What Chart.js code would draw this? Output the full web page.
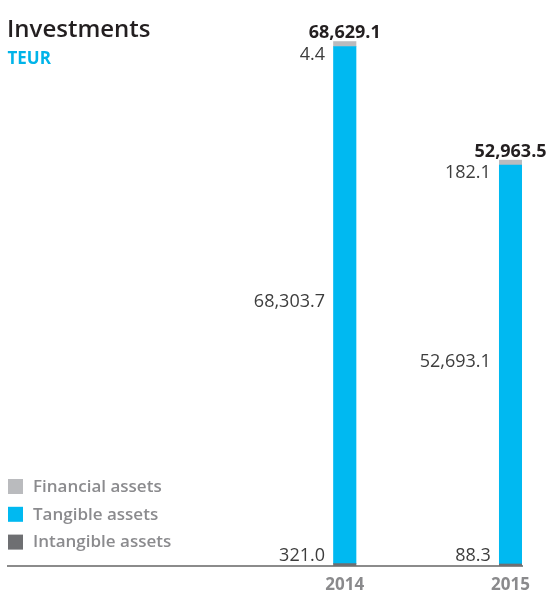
<!DOCTYPE html>
<html>
<head>
<meta charset="utf-8">
<script src="https://cdn.jsdelivr.net/npm/chart.js@4/dist/chart.umd.min.js"></script>
<style>
  html, body { margin: 0; padding: 0; background: #fff; }
  #wrap { position: relative; width: 552px; height: 591px; }
</style>
</head>
<body>
<div id="wrap"><canvas id="investments"></canvas></div>
<script>
// Investments per year, TEUR
const YEARS = [2014, 2015];
const INTANGIBLE = [321.0, 88.3];
const TANGIBLE = [68303.7, 52693.1];
const FINANCIAL = [4.4, 182.1];

const COLORS = {
  intangible: '#6e6f72',
  tangible: '#00b9f1',
  financial: '#babbbe'
};

const FONT = '"Open Sans", "Noto Sans", sans-serif';

const fmt = (v) => v.toLocaleString('en-US', { minimumFractionDigits: 1, maximumFractionDigits: 1 });
const points = (values) => YEARS.map((year, i) => ({ x: year, y: values[i] }));

// title, legend and value labels drawn on top of the bars
const annotations = {
  id: 'annotations',
  afterDraw(chart) {
    const { ctx } = chart;
    ctx.save();

    ctx.fillStyle = '#231f20';
    ctx.font = `600 24px ${FONT}`;
    ctx.textAlign = 'left';
    ctx.textBaseline = 'alphabetic';
    ctx.fillText('Investments', 7, 37);
    ctx.fillStyle = '#00b4e9';
    ctx.font = `700 17px ${FONT}`;
    ctx.fillText('TEUR', 7.5, 64);

    // legend, top row = top of the stack
    const sets = chart.data.datasets.slice().reverse();
    sets.forEach((ds, row) => {
      const top = 479 + row * 27.8;
      ctx.fillStyle = ds.backgroundColor;
      ctx.fillRect(8, top, 15, 15);
      ctx.fillStyle = '#8b8b8e';
      ctx.font = `600 17px ${FONT}`;
      ctx.textBaseline = 'middle';
      ctx.fillText(ds.label, 33, top + 8);
    });

    const [intMeta, tanMeta, finMeta] = [0, 1, 2].map((i) => chart.getDatasetMeta(i));
    YEARS.forEach((year, i) => {
      const intBar = intMeta.data[i];
      const tanBar = tanMeta.data[i];
      const finBar = finMeta.data[i];
      const left = tanBar.x - tanBar.width / 2 - 8.5;

      ctx.fillStyle = '#3d3d3d';
      ctx.font = `400 18px ${FONT}`;
      ctx.textAlign = 'right';
      ctx.textBaseline = 'alphabetic';
      ctx.fillText(fmt(FINANCIAL[i]), left, tanBar.y + 13);
      ctx.fillText(fmt(INTANGIBLE[i]), left, intBar.base - 5.5);
      ctx.textBaseline = 'middle';
      ctx.fillText(fmt(TANGIBLE[i]), left, (tanBar.y + tanBar.base) / 2 - 3);

      const total = INTANGIBLE[i] + TANGIBLE[i] + FINANCIAL[i];
      ctx.fillStyle = '#231f20';
      ctx.font = `700 18px ${FONT}`;
      ctx.textAlign = 'center';
      ctx.textBaseline = 'alphabetic';
      ctx.fillText(fmt(total), finBar.x, finBar.y - 3.5);
    });

    ctx.restore();
  }
};

new Chart(document.getElementById('investments'), {
  type: 'bar',
  data: {
    datasets: [
      { label: 'Intangible assets', data: points(INTANGIBLE), backgroundColor: COLORS.intangible, minBarLength: 2 },
      { label: 'Tangible assets', data: points(TANGIBLE), backgroundColor: COLORS.tangible },
      { label: 'Financial assets', data: points(FINANCIAL), backgroundColor: COLORS.financial, minBarLength: 5 }
    ].map((ds) => ({ ...ds, stack: 'total', barThickness: 22.5, borderWidth: 0 }))
  },
  options: {
    responsive: true,
    maintainAspectRatio: false,
    animation: false,
    events: [],
    layout: { padding: { top: 21, left: 8, right: 30, bottom: 0 } },
    plugins: {
      legend: { display: false },
      tooltip: { enabled: false }
    },
    scales: {
      x: {
        type: 'linear',
        stacked: true,
        offset: false,
        min: 2011.969,
        max: 2015.069,
        grid: { display: false, drawTicks: false, offset: false },
        border: { display: true, color: '#8b8b8b', width: 2 },
        afterBuildTicks: (scale) => { scale.ticks = YEARS.map((value) => ({ value })); },
        afterFit: (scale) => { scale.height = 25; },
        ticks: {
          padding: 9,
          color: '#8a8a8c',
          font: { family: FONT, size: 17, weight: '700' },
          callback: (value) => String(value)
        }
      },
      y: {
        display: false,
        stacked: true,
        min: 0,
        max: 72000
      }
    }
  },
  plugins: [annotations]
});
</script>
</body>
</html>
